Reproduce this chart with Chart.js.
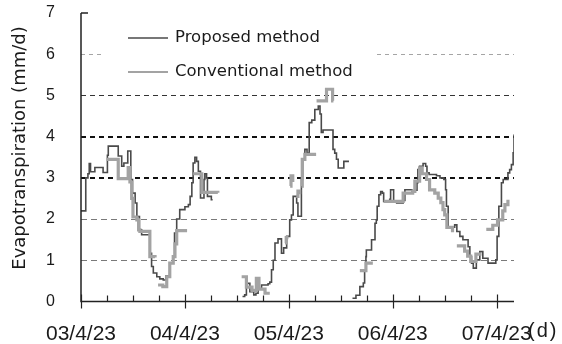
<!DOCTYPE html>
<html>
<head>
<meta charset="utf-8">
<script src="https://cdn.jsdelivr.net/npm/chart.js@4.4.1/dist/chart.umd.min.js"></script>
<style>
  html, body { margin: 0; padding: 0; background: #fff; }
  #wrap { width: 562px; height: 344px; }
</style>
</head>
<body>
<div id="wrap"><canvas id="chart" width="562" height="344"></canvas></div>
<script>
// Day labels on the time axis (one every 24 h) and the axis unit
const dayLabels = ['03/4/23', '04/4/23', '05/4/23', '06/4/23', '07/4/23'];
const timeUnit = '(d)';
const hourTicks = [0, 6, 12, 18, 24, 30, 36, 42, 48, 54, 60, 66, 72, 78, 84, 90, 96];
const valueTicks = [0, 1, 2, 3, 4, 5, 6, 7];
const seriesNames = ['Proposed method', 'Conventional method'];
const yTitle = 'Evapotranspiration (mm/d)';

// [hour, mm/d] readings; a null value breaks the line
const proposed = [
  [0, 2.2], [1.1, 3.0], [1.6, 3.1], [1.9, 3.35], [2.2, 3.15], [3.2, 3.25], [5.1, 3.13],
  [6.1, 3.55], [6.3, 3.77], [8.6, 3.53], [9.4, 3.28], [9.9, 3.36], [10.8, 3.65],
  [11.5, 2.96], [11.9, 2.63], [12.5, 2.39], [12.9, 2.06], [13.5, 1.74], [14.0, 1.62],
  [15.9, 1.17], [16.3, 0.85], [16.7, 0.69], [17.5, 0.6], [18.2, 0.55], [19.0, 0.52],
  [19.6, 0.62], [20.5, 0.93], [21.2, 1.09], [21.6, 1.66], [22.1, 2.0], [22.8, 2.23],
  [24.0, 2.3], [24.8, 2.35], [25.2, 2.55], [25.6, 2.88], [25.9, 3.36], [26.3, 3.5],
  [26.7, 3.4], [27.1, 3.16], [27.6, 2.51], [28.4, 2.96], [28.6, 3.1], [29.0, 3.0],
  [29.2, 2.55], [30.1, 2.47], [30.4, 2.47],
  [34, null],
  [37.3, 0.12], [37.8, 0.16], [38.2, 0.44], [39.0, 0.24], [39.9, 0.16], [40.4, 0.2],
  [40.9, 0.3], [41.7, 0.4], [43.2, 0.43], [43.6, 0.47], [44.0, 0.77], [44.4, 1.0],
  [44.8, 1.42], [45.5, 1.52], [46.3, 1.17], [46.8, 1.3], [47.5, 1.58], [48.2, 1.98],
  [48.6, 2.1], [49.0, 2.55], [49.8, 2.39], [50.1, 2.07], [50.9, 2.96], [51.2, 3.45],
  [51.7, 3.69], [52.2, 3.6], [52.7, 4.34], [53.3, 4.4], [54.0, 4.66], [54.8, 4.74],
  [55.2, 4.55], [55.5, 4.1], [55.9, 4.16], [58.2, 3.69], [58.6, 3.6], [59.0, 3.45],
  [59.4, 3.24], [60.7, 3.4], [61.7, 3.38],
  [62.2, null],
  [62.7, 0.08], [63.5, 0.15], [64.4, 0.36], [65.2, 0.45], [65.5, 0.77], [65.8, 1.09],
  [65.9, 1.25], [67.1, 1.5], [67.9, 1.9], [68.2, 1.98], [68.4, 2.31], [68.8, 2.59],
  [69.2, 2.67], [69.6, 2.63], [69.9, 2.43], [71.3, 2.48], [71.5, 2.71], [72.2, 2.43],
  [72.9, 2.39], [74.4, 2.45], [74.8, 2.71], [76.4, 2.65], [77.1, 2.7], [77.6, 2.88],
  [77.8, 3.2], [78.2, 3.28], [79.0, 3.35], [79.6, 3.28], [79.9, 3.12], [80.4, 3.08],
  [82.1, 3.05], [82.9, 3.0], [83.8, 2.96], [84.2, 2.71], [84.4, 2.31], [84.8, 1.78],
  [85.9, 1.8], [86.3, 1.86], [86.8, 1.7], [87.5, 1.58], [88.2, 1.5], [89.4, 1.33],
  [89.8, 1.09], [90.2, 0.93], [90.6, 0.81], [91.3, 1.01], [92.1, 1.21], [92.8, 1.05],
  [94.0, 0.93], [95.8, 1.01], [96.1, 1.58], [96.5, 2.31], [97.1, 2.88], [97.5, 2.96],
  [98.6, 3.12], [99.0, 3.2], [99.4, 3.32], [99.8, 3.61], [100, 4.05]
];

const conventional = [
  [5.9, 3.45], [8.6, 2.98], [10.9, 3.25], [11.3, 2.9], [11.7, 2.5], [12.0, 2.05],
  [12.9, 1.98], [13.3, 1.74], [13.6, 1.7], [15.9, 1.09], [17.1, 1.07],
  [17.4, null],
  [17.8, 0.4], [18.9, 0.36], [19.8, 0.6], [20.5, 0.93], [21.3, 1.09], [21.7, 1.4],
  [22.1, 1.72], [24.5, 1.72],
  [25.2, null],
  [25.9, 3.1], [27.9, 2.65], [31.6, 2.64],
  [34, null],
  [37.1, 0.6], [38.2, 0.35], [39.5, 0.27], [40.5, 0.56], [41.1, 0.3], [42.5, 0.2], [43.6, 0.2],
  [45, null],
  [47.1, 1.42], [47.4, 1.55], [47.9, 1.55],
  [48.1, null],
  [48.3, 2.8], [48.5, 3.05], [48.9, 2.9],
  [49.3, null],
  [49.7, 2.55], [50.1, 2.68], [50.5, 2.6],
  [50.7, null],
  [50.9, 2.8], [51.1, 3.45], [51.7, 3.57], [54.3, 3.57],
  [54.35, null],
  [54.4, 4.87], [56.7, 5.15], [58.1, 4.87], [58.3, 4.87],
  [61, null],
  [64.4, 0.75], [65.8, 0.93], [67.4, 0.93],
  [68.5, null],
  [69.9, 2.43], [74.4, 2.63], [76.6, 2.67], [77.1, 2.92], [78.2, 3.24], [78.8, 3.1],
  [79.8, 2.96], [80.5, 2.71], [81.7, 2.63], [82.5, 2.51], [83.1, 2.4], [83.6, 2.23],
  [84.0, 2.1], [84.5, 1.8], [85.8, 1.68],
  [86.3, null],
  [86.8, 1.35], [88.6, 1.22], [89.3, 1.1], [90.0, 0.97], [91.2, 1.15], [92.5, 1.15],
  [93, null],
  [93.6, 1.75], [95.1, 1.85], [96.2, 1.98], [97.4, 2.2], [97.9, 2.35], [98.6, 2.47]
];

const toPoints = rows => rows.map(([h, v]) => ({ x: h, y: v }));

const INK = '#1a1a1a';
const DARK_LINE = '#4a4a4a';
const LIGHT_LINE = '#a3a3a3';

// Dashed reference lines: each level has its own weight and tone
const gridStyle = {
  1: { color: '#7a7a7a', width: 1, dash: [6, 4] },
  2: { color: '#7a7a7a', width: 1, dash: [6, 4] },
  3: { color: '#111111', width: 2, dash: [5, 4] },
  4: { color: '#111111', width: 2, dash: [5, 4] },
  5: { color: '#333333', width: 1, dash: [5, 4] },
  6: { color: '#a5a5a5', width: 1, dash: [4, 4] }
};

const framePlugin = {
  id: 'frame',
  beforeDatasetsDraw(chart) {
    const { ctx, chartArea: a, scales: { y } } = chart;
    ctx.save();
    valueTicks.forEach(v => {
      const s = gridStyle[v];
      if (!s) return;
      let py = y.getPixelForValue(v);
      py = s.width % 2 ? Math.round(py - 0.5) + 0.5 : Math.round(py);
      ctx.beginPath();
      ctx.setLineDash(s.dash);
      ctx.strokeStyle = s.color;
      ctx.lineWidth = s.width;
      ctx.moveTo(a.left, py);
      ctx.lineTo(a.right, py);
      ctx.stroke();
    });
    // opaque legend panel
    ctx.setLineDash([]);
    ctx.fillStyle = '#ffffff';
    ctx.fillRect(a.left + 20, a.top + 9, 274, 68);
    ctx.restore();
  },
  afterDatasetsDraw(chart) {
    const { ctx, chartArea: a, scales: { x, y } } = chart;
    ctx.save();
    ctx.setLineDash([]);
    ctx.strokeStyle = '#222';
    ctx.lineWidth = 1.5;
    // axes
    const top = y.getPixelForValue(7);
    ctx.beginPath();
    ctx.moveTo(a.left, top);
    ctx.lineTo(a.left, a.bottom);
    ctx.lineTo(a.right, a.bottom);
    ctx.stroke();
    // inward tick at the top of the value axis
    ctx.beginPath();
    ctx.moveTo(a.left, top);
    ctx.lineTo(a.left + 7, top);
    ctx.stroke();
    // time ticks: whole days cross the axis, quarter days point inward
    ctx.lineWidth = 1.2;
    hourTicks.forEach(h => {
      const px = Math.round(x.getPixelForValue(h)) + 0.5;
      ctx.beginPath();
      if (h % 24 === 0) {
        ctx.moveTo(px, a.bottom - 7);
        ctx.lineTo(px, a.bottom + 7);
      } else {
        ctx.moveTo(px, a.bottom - 6);
        ctx.lineTo(px, a.bottom);
      }
      ctx.stroke();
    });

    // legend
    const lx = a.left + 47, ly1 = a.top + 25, ly2 = a.top + 59;
    ctx.lineWidth = 1.6;
    ctx.strokeStyle = DARK_LINE;
    ctx.beginPath(); ctx.moveTo(lx, ly1); ctx.lineTo(lx + 40, ly1); ctx.stroke();
    ctx.lineWidth = 2;
    ctx.strokeStyle = LIGHT_LINE;
    ctx.beginPath(); ctx.moveTo(lx, ly2); ctx.lineTo(lx + 40, ly2); ctx.stroke();
    ctx.fillStyle = INK;
    ctx.font = '16.5px "DejaVu Sans"';
    ctx.textAlign = 'left';
    ctx.textBaseline = 'middle';
    ctx.fillText(seriesNames[0], lx + 47, ly1);
    ctx.fillText(seriesNames[1], lx + 47, ly2);

    // value axis title
    ctx.save();
    ctx.translate(20, 148);
    ctx.rotate(-Math.PI / 2);
    ctx.font = '18px "DejaVu Sans"';
    ctx.textAlign = 'center';
    ctx.textBaseline = 'middle';
    ctx.fillText(yTitle, 0, 0);
    ctx.restore();

    // time unit after the last day label
    ctx.font = '20px "Liberation Sans"';
    ctx.textAlign = 'left';
    ctx.textBaseline = 'middle';
    if ('letterSpacing' in ctx) ctx.letterSpacing = '2px';
    ctx.fillText(timeUnit, a.right + 14, 331);
    ctx.restore();
  }
};

Chart.defaults.font.family = '"Liberation Sans", Arial, sans-serif';
Chart.defaults.color = INK;

new Chart(document.getElementById('chart'), {
  type: 'line',
  data: {
    datasets: [
      {
        label: seriesNames[1],
        data: toPoints(conventional),
        borderColor: LIGHT_LINE,
        borderWidth: 3.2,
        stepped: 'before',
        spanGaps: false,
        pointRadius: 0,
        order: 0
      },
      {
        label: seriesNames[0],
        data: toPoints(proposed),
        borderColor: DARK_LINE,
        borderWidth: 1.6,
        stepped: 'before',
        spanGaps: false,
        pointRadius: 0,
        order: 1
      }
    ]
  },
  options: {
    responsive: false,
    animation: false,
    events: [],
    devicePixelRatio: 1,
    layout: { padding: { top: 13, right: 48, left: 0, bottom: 0 } },
    plugins: { legend: { display: false }, tooltip: { enabled: false } },
    scales: {
      x: {
        type: 'linear',
        min: 0,
        max: 100,
        grid: { display: false, drawTicks: false },
        border: { display: false },
        afterBuildTicks: s => { s.ticks = hourTicks.map(v => ({ value: v })); },
        afterFit: s => { s.height = 42.5; },
        ticks: {
          autoSkip: false,
          maxRotation: 0,
          minRotation: 0,
          padding: 20,
          font: { size: 21, family: '"Liberation Sans"' },
          color: INK,
          callback: v => (v % 24 === 0 ? dayLabels[v / 24] : '')
        }
      },
      y: {
        min: 0,
        max: 7,
        grid: { display: false, drawTicks: false },
        border: { display: false },
        afterBuildTicks: s => { s.ticks = valueTicks.map(v => ({ value: v })); },
        afterFit: s => { s.width = 81; s.paddingTop = 0; s.paddingBottom = 0; },
        ticks: {
          padding: 26,
          font: { size: 16, family: '"Liberation Sans"' },
          color: INK
        }
      }
    }
  },
  plugins: [framePlugin]
});
</script>
</body>
</html>
